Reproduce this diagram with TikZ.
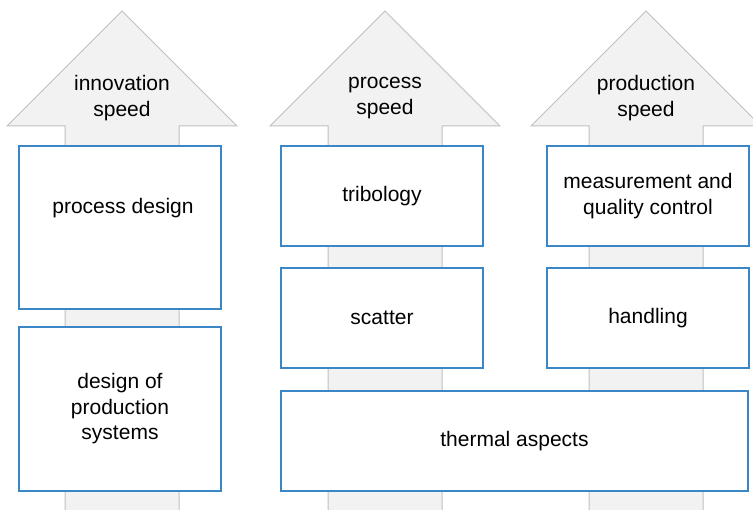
\documentclass[tikz,border=0pt]{standalone}
\usepackage{fontspec}
\setmainfont{Liberation Sans}
\usetikzlibrary{positioning}
\definecolor{boxblue}{RGB}{58,134,198}
\definecolor{arrowfill}{RGB}{242,242,242}
\definecolor{arrowline}{RGB}{192,192,192}
\tikzstyle{speedarrow} = [draw=arrowline,
fill=arrowfill,
line width=1pt]
\tikzstyle{area} = [rectangle,
minimum width=202pt,
minimum height=100pt,
text centered,
align=center,
draw=boxblue,
line width=2.3pt,
fill=white]
\tikzstyle{caption} = [align=center]

\begin{document}
\begin{tikzpicture}[x=1pt, y=-1pt, node distance=122pt,
    font=\fontsize{21}{25.5}\selectfont]

    \useasboundingbox (0,0) rectangle (753,510);
    \clip (0,0) rectangle (753,510);

    % the three speed arrows
    \draw [speedarrow] (122,11) -- (237,126) -- (179,126) -- (179,520)
        -- (65,520) -- (65,126) -- (7,126) -- cycle;
    \draw [speedarrow] (385,11) -- (500,126) -- (442,126) -- (442,520)
        -- (328,520) -- (328,126) -- (270,126) -- cycle;
    \draw [speedarrow] (646,11) -- (761,126) -- (703,126) -- (703,520)
        -- (589,520) -- (589,126) -- (531,126) -- cycle;

    \node (innov) [caption] at (122,98) {innovation\\speed};
    \node (procsp) [caption] at (385,98) {process\\speed};
    \node (prodsp) [caption] at (646,98) {production\\speed};

    % left column
    \node (pd) [area, minimum height=163pt] at (120,227.5) {};
    \node (pdtext) [caption] at (123,208) {process design};
    \node (dps) [area, minimum height=164pt] at (120,409) {design of\\production\\systems};

    % middle column
    \node (trib) [area] at (382,196) {tribology};
    \node (scatter) [area, below of=trib] {scatter};

    % right column
    \node (meas) [area] at (648,196) {measurement and\\quality control};
    \node (handling) [area, below of=meas] {handling};

    \node (thermal) [area, minimum width=467pt] at (514.5,441) {thermal aspects};

\end{tikzpicture}
\end{document}
